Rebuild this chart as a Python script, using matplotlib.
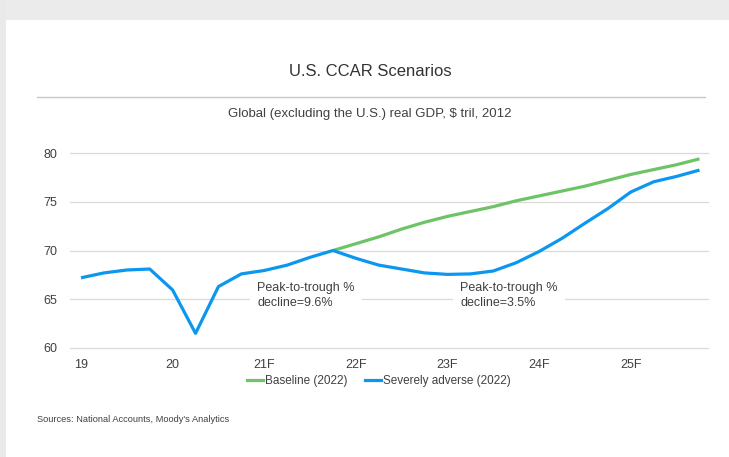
import matplotlib
matplotlib.use("Agg")
import matplotlib.pyplot as plt
from matplotlib.patches import Rectangle
from matplotlib.lines import Line2D

plt.rcParams['font.family'] = ['Liberation Sans', 'DejaVu Sans']

# Quarterly series, 2019Q1 .. 2025Q4
quarters = list(range(28))
tick_positions = [0, 4, 8, 12, 16, 20, 24]
tick_labels = ["19", "20", "21F", "22F", "23F", "24F", "25F"]

# Baseline starts where the scenarios diverge (2021Q4)
baseline_start = 11
baseline = [70.0, 70.7, 71.4, 72.2, 72.9, 73.5, 74.0, 74.5, 75.1,
            75.6, 76.1, 76.6, 77.2, 77.8, 78.3, 78.8, 79.4]
severe = [67.2, 67.7, 68.0, 68.1, 65.95, 61.5, 66.3, 67.6,
          67.95, 68.5, 69.3, 70.0,
          69.2, 68.5, 68.1, 67.7, 67.55, 67.6, 67.9, 68.75,
          69.9, 71.25, 72.8, 74.3, 76.0, 77.05, 77.6, 78.25]

yticks = [60, 65, 70, 75, 80]
notes = ["Peak-to-trough %\ndecline=9.6%", "Peak-to-trough %\ndecline=3.5%"]
note_pos = [(7.69, 65.4), (16.55, 65.4)]

green = "#6cc466"
blue = "#0b97f0"
text_col = "#404040"
grid_col = "#d9d9d9"

W, H = 729, 457
fig = plt.figure(figsize=(W / 100, H / 100), dpi=100)
fig.patch.set_facecolor("white")

# page frame: grey strip at the top and left edge
fig.patches.append(Rectangle((0, 1 - 20 / H), 1, 20 / H, transform=fig.transFigure,
                             facecolor="#ebebeb", edgecolor="none", zorder=0))
fig.patches.append(Rectangle((0, 0), 6 / W, 1, transform=fig.transFigure,
                             facecolor="#e9e9e9", edgecolor="none", zorder=0))

left, right = 70 / W, 708 / W
bottom, top = (H - 348) / H, (H - 153) / H
ax = fig.add_axes([left, bottom, right - left, top - bottom])
ax.set_facecolor("none")

ax.plot(quarters[baseline_start:], baseline, color=green, lw=2.3,
        solid_capstyle="butt", zorder=3)
ax.plot(quarters, severe, color=blue, lw=2.3, solid_capstyle="butt", zorder=4)

ax.set_xlim(-0.48, 27.37)
ax.set_ylim(60, 80)
ax.set_yticks(yticks)
ax.set_xticks(tick_positions)
ax.set_xticklabels(tick_labels)
for s in ax.spines.values():
    s.set_visible(False)
ax.grid(axis="y", color=grid_col, lw=0.9, zorder=0)
for g in ax.get_ygridlines():
    g.set_clip_on(False)
ax.tick_params(axis="both", length=0, labelsize=9, colors=text_col)
ax.tick_params(axis="y", pad=9)
ax.tick_params(axis="x", pad=8)

for txt, (x, y) in zip(notes, note_pos):
    ax.text(x, y, txt, fontsize=9, color=text_col, ha="left", va="center",
            linespacing=1.35, zorder=2,
            bbox=dict(boxstyle="square,pad=0.55", facecolor="white", edgecolor="none"))

# title block
fig.text(370 / W, 1 - 71 / H, "U.S. CCAR Scenarios", ha="center", va="center",
         fontsize=12, color="#333333")
fig.add_artist(Line2D([37 / W, 705 / W], [1 - 97 / H, 1 - 97 / H],
                      transform=fig.transFigure, color="#c8c8c8", lw=1))
fig.text(370 / W, 1 - 114 / H, "Global (excluding the U.S.) real GDP, $ tril, 2012",
         ha="center", va="center", fontsize=9.5, color=text_col)

handles = [Line2D([], [], color=green, lw=2.3), Line2D([], [], color=blue, lw=2.3)]
fig.legend(handles, ["Baseline (2022)", "Severely adverse (2022)"],
           loc="center", bbox_to_anchor=(379 / W, 1 - 381 / H), ncol=2,
           frameon=False, fontsize=8.5, handlelength=1.3, handletextpad=0.2,
           columnspacing=1.5, labelcolor=text_col, borderpad=0)

fig.text(37 / W, 1 - 420 / H, "Sources: National Accounts, Moody's Analytics",
         ha="left", va="center", fontsize=6.7, color=text_col)

fig.savefig("out.png", dpi=100)
